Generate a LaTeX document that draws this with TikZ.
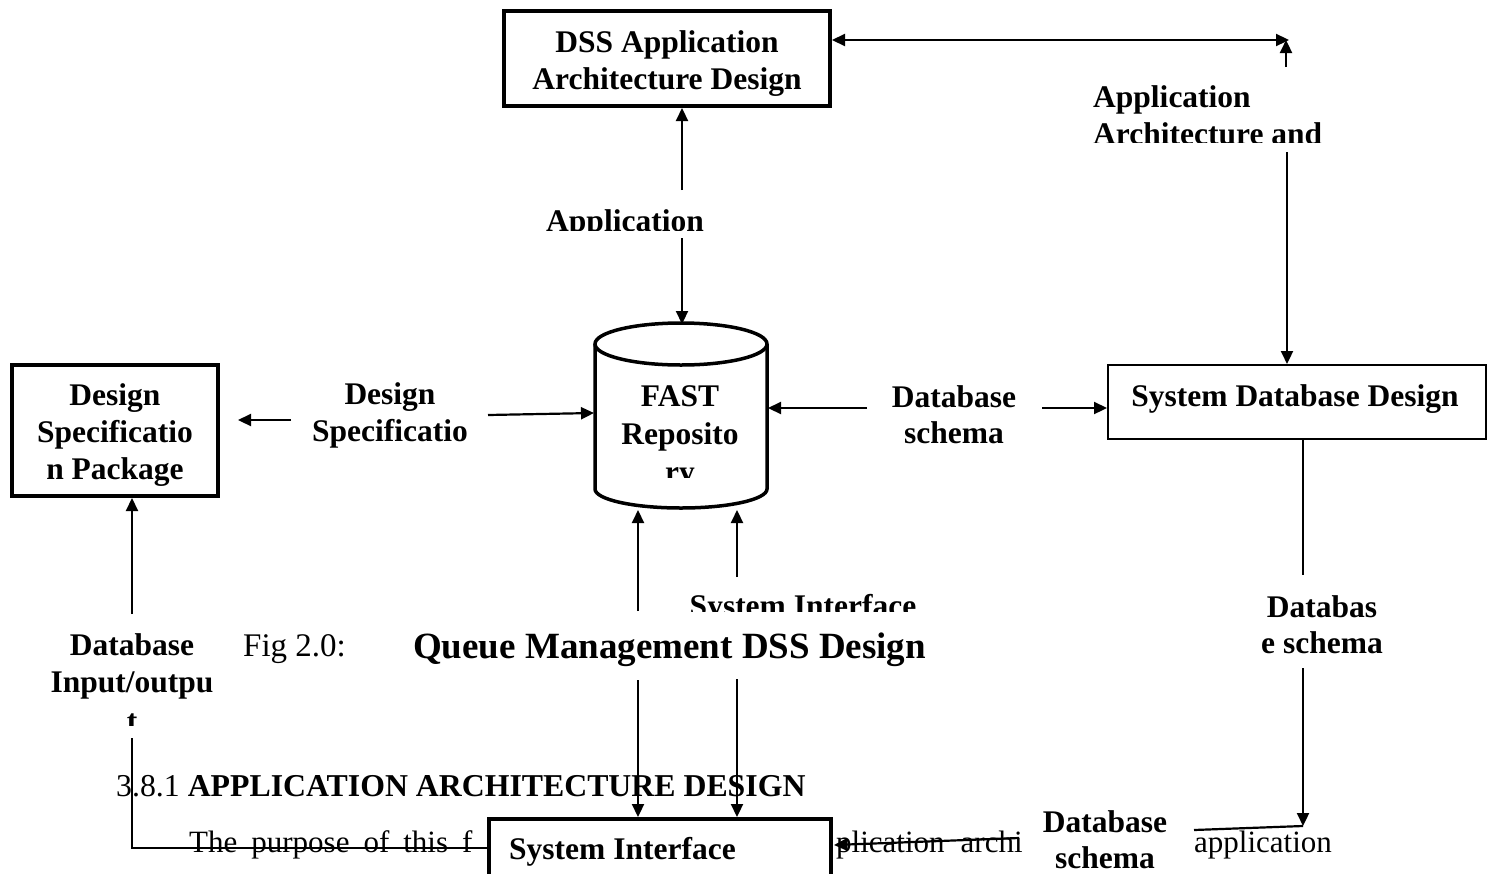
\documentclass[tikz,border=0pt]{standalone}
\usepackage{fontspec}
\setmainfont{Liberation Serif}
\usetikzlibrary{arrows.meta}
\begin{document}
\begin{tikzpicture}[x=1pt,y=-1pt,
 lbl/.style={font=\bfseries\fontsize{31.5}{37}\selectfont, inner sep=0pt, anchor=base},
 body/.style={font=\fontsize{31}{37}\selectfont, inner sep=0pt, anchor=base west},
 thickbox/.style={draw, line width=4pt, fill=white, inner sep=0pt},
 thinbox/.style={draw, line width=2pt, fill=white, inner sep=0pt},
 con/.style={line width=2.2pt},
 arr/.style={con, -{Triangle[length=13pt,width=12pt]}},
 dblarr/.style={con, {Triangle[length=13pt,width=12pt]}-{Triangle[length=13pt,width=12pt]}},
 cyl/.style={line width=3.5pt}
]
\useasboundingbox (0,0) rectangle (1493,873);
\clip (0,0) rectangle (1493,873);

% ---- background body text of the page ----
\node[body, font=\fontsize{31.8}{37}\selectfont] (head) at (116,796) {3.8.1 \textbf{APPLICATION ARCHITECTURE DESIGN}};
\node[body] (p1) at (189,852) {The\hspace{14pt}purpose\hspace{14pt}of\hspace{14pt}this\hspace{14pt}f};
\node[body] (p2) at (836,852) {plication\hspace{16pt}archi};
\node[body] (p3) at (1194,852) {application};

% ---- caption ----
\node[font=\fontsize{33}{37}\selectfont, anchor=base west, inner sep=0pt] (fig) at (243,656) {Fig 2.0:};
\node[font=\bfseries\fontsize{37}{40}\selectfont, anchor=base west, inner sep=0pt] (cap) at (413,658) {Queue Management DSS Design};

% ---- boxes ----
\node[thickbox, minimum width=326pt, minimum height=95pt] (dss) at (667,58.5) {};
\node[lbl] (dss1) at (667,52) {DSS Application};
\node[lbl] (dss2) at (667,89) {Architecture Design};

\node[thickbox, minimum width=206pt, minimum height=131pt] (dsp) at (115,430.5) {};
\node[lbl] (dsp1) at (115,405) {Design};
\node[lbl] (dsp2) at (115,442) {Specificatio};
\node[lbl] (dsp3) at (115,479) {n Package};

\node[thinbox, minimum width=378pt, minimum height=74pt] (sdd) at (1297,402) {};
\node[lbl] (sdd1) at (1295,406) {System Database Design};

\node[thickbox, minimum width=342pt, minimum height=81pt] (si) at (660,859.5) {};
\node[lbl, anchor=base west] (si1) at (509,859) {System Interface};

% ---- cylinder (FAST repository) ----
\coordinate (cyl) at (681,344);
\draw[cyl, fill=white] (595,344) -- (595,489) arc[start angle=180, end angle=360, x radius=86pt, y radius=19pt] -- (767,344);
\draw[cyl] (cyl) ellipse [x radius=86pt, y radius=21pt];
\node[lbl] (fast1) at (680,406) {FAST};
\node[lbl] (fast2) at (680,444) {Reposito};
\begin{scope}
  \clip (600,450) rectangle (760,477);
  \node[lbl] (fast3) at (680,482) {ry};
\end{scope}

% ---- flow labels ----
\begin{scope}
  \clip (500,150) rectangle (760,230);
  \node[lbl] (lapp) at (625,231) {Application};
\end{scope}
\node[lbl, anchor=base west] (laa1) at (1093,107) {Application};
\begin{scope}
  \clip (1080,110) rectangle (1400,142);
  \node[lbl, anchor=base west] (laa2) at (1093,144) {Architecture and};
\end{scope}
\node[lbl] (lds1) at (390,404) {Design};
\node[lbl] (lds2) at (390,441) {Specificatio};
\node[lbl] (ldb1) at (954,407) {Database};
\node[lbl] (ldb2) at (954,443) {schema};
\node[lbl] (lio1) at (132,655) {Database};
\node[lbl] (lio2) at (132,692) {Input/outpu};
\begin{scope}
  \clip (100,690) rectangle (170,725);
  \node[lbl] (lio3) at (132,731) {t};
\end{scope}
\begin{scope}
  \clip (660,560) rectangle (950,611);
  \node[lbl] (lsi) at (803,616) {System Interface};
\end{scope}
\node[lbl] (lrs1) at (1322,617) {Databas};
\node[lbl] (lrs2) at (1322,653) {e schema};
\node[lbl] (lbs1) at (1105,832) {Database};
\node[lbl] (lbs2) at (1105,868) {schema};

% ---- connector end points ----
\coordinate (trc) at (1289,40);
\coordinate (tup) at (1286,67);
\coordinate (tdn) at (1287,152);
\coordinate (a1) at (682,190);
\coordinate (a2) at (682,238);
\coordinate (d1) at (867,408);
\coordinate (d2) at (1042,408);
\coordinate (s1) at (291,420);
\coordinate (s1t) at (238,420);
\coordinate (s2) at (488,415);
\coordinate (s2t) at (594,413);
\coordinate (io1) at (132,614);
\coordinate (io2) at (132,738);
\coordinate (io3) at (132,848);
\coordinate (u1) at (638,611);
\coordinate (u2) at (737,577);
\coordinate (w1) at (638,680);
\coordinate (w2) at (737,679);
\coordinate (r1) at (1303,575);
\coordinate (r2) at (1303,668);
\coordinate (r3) at (1303,826);
\coordinate (b1) at (1194,830);
\coordinate (b2) at (1019,838);

% ---- connectors ----
\draw[dblarr] (dss.east |- trc) -- (trc);
\draw[arr] (tup) -- (1286,40);
\draw[arr] (tdn) -- (tdn |- sdd.north);
\draw[arr] (a1) -- (a1 |- dss.south);
\draw[arr] (a2) -- (682,324);
\draw[arr] (d1) -- (768,408);
\draw[arr] (d2) -- (d2 -| sdd.west);
\draw[arr] (s1) -- (s1t);
\draw[arr] (s2) -- (s2t);
\draw[arr] (io1) -- (io1 |- dsp.south);
\draw[con] (io2) -- (io3) -- (io3 -| si.west);
\draw[arr] (u1) -- (638,510);
\draw[arr] (u2) -- (737,510);
\draw[arr] (w1) -- (w1 |- si.north);
\draw[arr] (w2) -- (w2 |- si.north);
\draw[con] (sdd.south -| r1) -- (r1);
\draw[arr] (r2) -- (r3);
\draw[con] (b1) -- (r3);
\draw[arr] (b2) -- (834,845);
\end{tikzpicture}
\end{document}
